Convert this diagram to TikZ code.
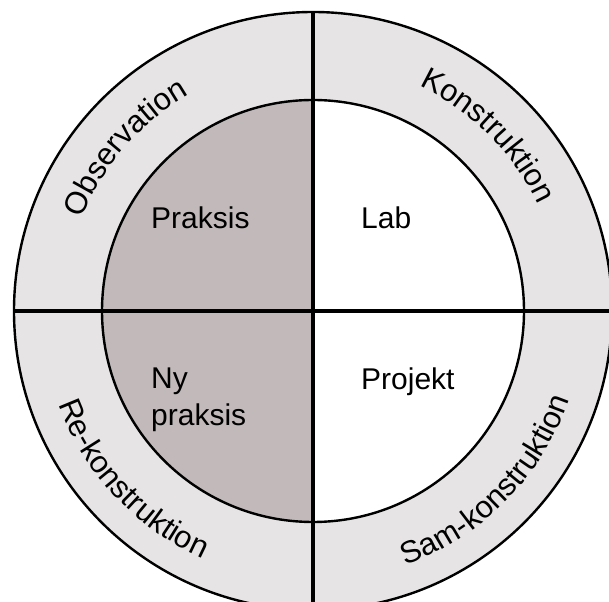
\documentclass[tikz,border=0pt]{standalone}
\usepackage{fontspec}
\setmainfont{Liberation Sans}
\usetikzlibrary{decorations.text}

\definecolor{ringgray}{HTML}{E6E4E5}
\definecolor{praxgray}{HTML}{C1B9BA}
\newcommand{\ringfont}{\fontsize{31}{37}\selectfont}
\newcommand{\fieldfont}{\fontsize{30}{37}\selectfont}

\tikzset{
  circ/.style={draw=black, line width=2.4pt},
  axis/.style={draw=black, line width=3.2pt},
  field/.style={anchor=base west, inner sep=0pt, font=\fieldfont, align=left},
  ringtext/.style={decorate, decoration={text along path, text align=center, text={|\ringfont|#1}}}
}

\begin{document}
\begin{tikzpicture}[x=1pt, y=1pt]
    \clip (-313,-290) rectangle (296,311);
    % rings
    \fill[ringgray] (0,0) circle[radius=299];
    \fill[white] (0,0) circle[radius=211];
    \fill[praxgray] (0,211) arc[start angle=90, end angle=270, radius=211] -- cycle;
    \draw[circ] (0,0) circle[radius=299];
    \draw[circ] (0,0) circle[radius=211];
    % axes
    \coordinate (top) at (0,299);
    \coordinate (bottom) at (0,-320);
    \coordinate (left) at (-299,0);
    \coordinate (right) at (320,0);
    \draw[axis] (top)--(bottom);
    \draw[axis] (left)--(right);
    % inner fields
    \node[field] (praksis) at (-162,82){Praksis};
    \node[field] (lab) at (48,82){Lab};
    \node[field] (nypraksis) at (-162,-115){Ny\\praksis};
    \node[field] (projekt) at (48,-79){Projekt};
    % ring labels
    \path[ringtext=Observation] (200:249) arc[start angle=200, end angle=78, radius=249];
    \path[ringtext=Konstruktion] (106:249) arc[start angle=106, end angle=-16, radius=249];
    \path[ringtext=Re-konstruktion] (163:271) arc[start angle=163, end angle=283, radius=271];
    \path[ringtext=Sam-konstruktion] (-104.5:271) arc[start angle=-104.5, end angle=15.5, radius=271];
  \end{tikzpicture}
\end{document}
